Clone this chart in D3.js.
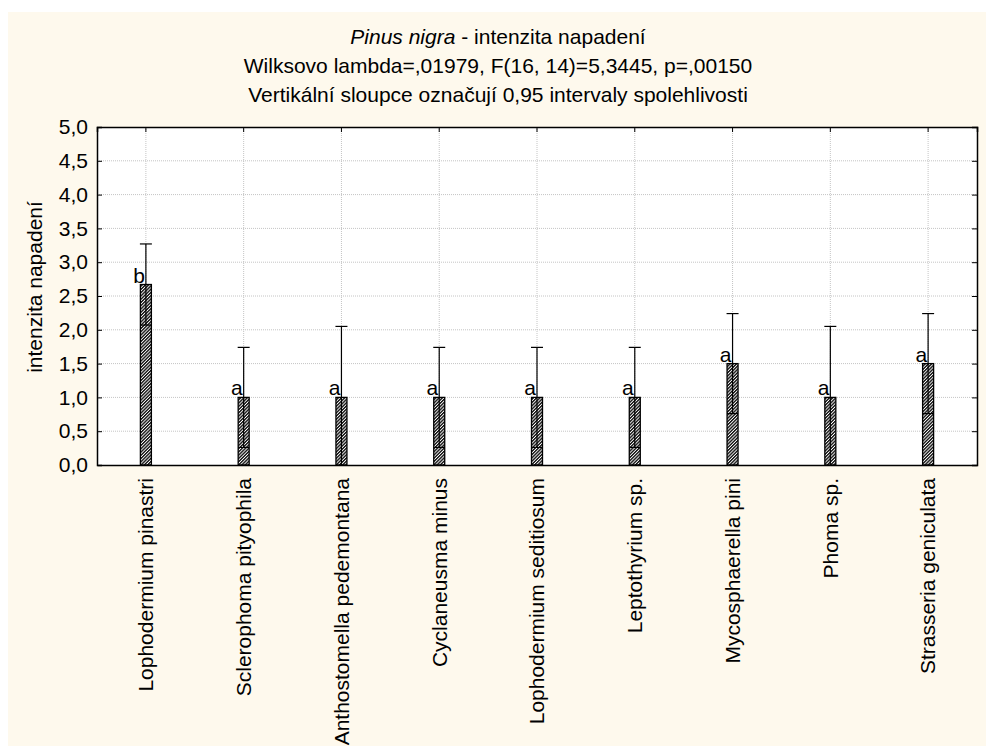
<!DOCTYPE html>
<html>
<head>
<meta charset="utf-8">
<title>Pinus nigra - intenzita napadení</title>
<script src="https://d3js.org/d3.v7.min.js"></script>
<style>
    body { margin: 0; background: #ffffff; }
    text { font-family: Arial, "Liberation Sans", sans-serif; fill: #000; }
    .grid line { stroke: #c4c4c4; stroke-width: 1px; stroke-dasharray: 1,1; }
    .axis path, .axis line { stroke: #000; }
</style>
</head>
<body>
<script>
// data
const categories = ["Lophodermium pinastri", "Sclerophoma pityophila", "Anthostomella pedemontana",
    "Cyclaneusma minus", "Lophodermium seditiosum", "Leptothyrium sp.", "Mycosphaerella pini",
    "Phoma sp.", "Strasseria geniculata"];
const means = [2.67, 1.0, 1.0, 1.0, 1.0, 1.0, 1.5, 1.0, 1.5];
const upper = [3.27, 1.74, 2.05, 1.74, 1.74, 1.74, 2.24, 2.05, 2.24];
const lower = [2.07, 0.26, -0.05, 0.26, 0.26, 0.26, 0.76, -0.05, 0.76];
const letters = ["b", "a", "a", "a", "a", "a", "a", "a", "a"];
const yTicks = [0, 0.5, 1, 1.5, 2, 2.5, 3, 3.5, 4, 4.5, 5];

const W = 992, H = 752;
const pLeft = 97, pRight = 977, pTop = 127, pBottom = 465;
const fs = 21;

const svg = d3.select("body").append("svg")
    .attr("width", W)
    .attr("height", H);

// cream background panel
svg.append("rect")
    .attr("x", 8).attr("y", 12)
    .attr("width", W - 14).attr("height", H - 18)
    .attr("fill", "#fef9ed");

const defs = svg.append("defs");
const pat = defs.append("pattern")
    .attr("id", "hatch")
    .attr("patternUnits", "userSpaceOnUse")
    .attr("width", 2.3).attr("height", 2.3)
    .attr("patternTransform", "rotate(45)");
pat.append("rect").attr("width", 2.3).attr("height", 2.3).attr("fill", "#ffffff");
pat.append("line")
    .attr("x1", 0.7).attr("y1", 0).attr("x2", 0.7).attr("y2", 2.3)
    .attr("stroke", "#111").attr("stroke-width", 1.4);

const x = d3.scaleBand().domain(categories).range([pLeft, pRight]);
const y = d3.scaleLinear().domain([0, 5]).range([pBottom, pTop]);
const cx = d => x(d) + x.bandwidth() / 2;

const loc = d3.formatLocale({decimal: ",", thousands: " ", grouping: [3], currency: ["", ""]});
const fmt = loc.format(".1f");

// plot area
svg.append("rect")
    .attr("x", pLeft).attr("y", pTop)
    .attr("width", pRight - pLeft).attr("height", pBottom - pTop)
    .attr("fill", "#ffffff");

// gridlines
const grid = svg.append("g").attr("class", "grid");
grid.selectAll(".h")
    .data(yTicks.filter(t => t > 0 && t < 5))
    .join("line")
    .attr("x1", pLeft).attr("x2", pRight)
    .attr("y1", d => y(d)).attr("y2", d => y(d));
grid.selectAll(".v")
    .data(categories)
    .join("line")
    .attr("x1", cx).attr("x2", cx)
    .attr("y1", pTop).attr("y2", pBottom);

// bars
const barW = 11;
svg.append("g")
    .selectAll("rect")
    .data(categories)
    .join("rect")
    .attr("x", d => cx(d) - barW / 2)
    .attr("y", (d, i) => y(means[i]))
    .attr("width", barW)
    .attr("height", (d, i) => y(0) - y(means[i]))
    .attr("fill", "url(#hatch)")
    .attr("stroke", "#000")
    .attr("stroke-width", 1.3);

// confidence intervals
const eb = svg.append("g").attr("stroke", "#000").attr("stroke-width", 1.2);
eb.selectAll(".whisker")
    .data(categories)
    .join("line")
    .attr("x1", cx).attr("x2", cx)
    .attr("y1", (d, i) => y(Math.max(0, lower[i])))
    .attr("y2", (d, i) => y(upper[i]));
eb.selectAll(".capHi")
    .data(categories)
    .join("line")
    .attr("x1", d => cx(d) - 6).attr("x2", d => cx(d) + 6)
    .attr("y1", (d, i) => y(upper[i]))
    .attr("y2", (d, i) => y(upper[i]));
eb.selectAll(".capLo")
    .data(categories.filter((d, i) => lower[i] > 0))
    .join("line")
    .attr("x1", d => cx(d) - barW / 2).attr("x2", d => cx(d) + barW / 2)
    .attr("y1", d => y(lower[categories.indexOf(d)]))
    .attr("y2", d => y(lower[categories.indexOf(d)]));

// letters
svg.append("g")
    .selectAll("text")
    .data(categories)
    .join("text")
    .attr("x", d => cx(d) - 1)
    .attr("y", (d, i) => y(means[i]) - 2)
    .attr("text-anchor", "end")
    .attr("font-size", fs)
    .text((d, i) => letters[i]);

// axes
svg.append("g")
    .attr("class", "axis")
    .attr("transform", `translate(${pLeft},0)`)
    .call(d3.axisLeft(y).tickValues(yTicks).tickFormat(fmt).tickSize(-5).tickPadding(9))
    .call(g => g.selectAll("text").attr("font-size", fs).style("font-family", "Arial, 'Liberation Sans', sans-serif"));
svg.append("g")
    .attr("class", "axis")
    .attr("transform", `translate(${pRight},0)`)
    .call(d3.axisRight(y).tickValues(yTicks).tickFormat("").tickSize(-5));
svg.append("g")
    .attr("class", "axis")
    .attr("transform", `translate(0,${pTop})`)
    .call(d3.axisTop(x).tickFormat("").tickSize(-5));
svg.append("g")
    .attr("class", "axis")
    .attr("transform", `translate(0,${pBottom})`)
    .call(d3.axisBottom(x).tickFormat("").tickSize(0));
svg.selectAll(".axis path").attr("stroke-width", 1.5);

// category labels
svg.append("g")
    .selectAll("text")
    .data(categories)
    .join("text")
    .attr("transform", d => `translate(${cx(d)},478) rotate(-90)`)
    .attr("dy", "0.35em")
    .attr("text-anchor", "end")
    .attr("font-size", fs)
    .text(d => d);

// y title
svg.append("text")
    .attr("transform", "translate(35,287) rotate(-90)")
    .attr("dy", "0.35em")
    .attr("text-anchor", "middle")
    .attr("font-size", fs)
    .text("intenzita napadení");

// titles
const t1 = svg.append("text")
    .attr("x", 498).attr("y", 44)
    .attr("text-anchor", "middle")
    .attr("font-size", fs);
t1.append("tspan").attr("font-style", "italic").text("Pinus nigra");
t1.append("tspan").text(" - intenzita napadení");
svg.append("text")
    .attr("x", 498).attr("y", 73)
    .attr("text-anchor", "middle")
    .attr("font-size", fs)
    .text("Wilksovo lambda=,01979, F(16, 14)=5,3445, p=,00150");
svg.append("text")
    .attr("x", 498).attr("y", 102)
    .attr("text-anchor", "middle")
    .attr("font-size", fs)
    .text("Vertikální sloupce označují 0,95 intervaly spolehlivosti");
</script>
</body>
</html>
